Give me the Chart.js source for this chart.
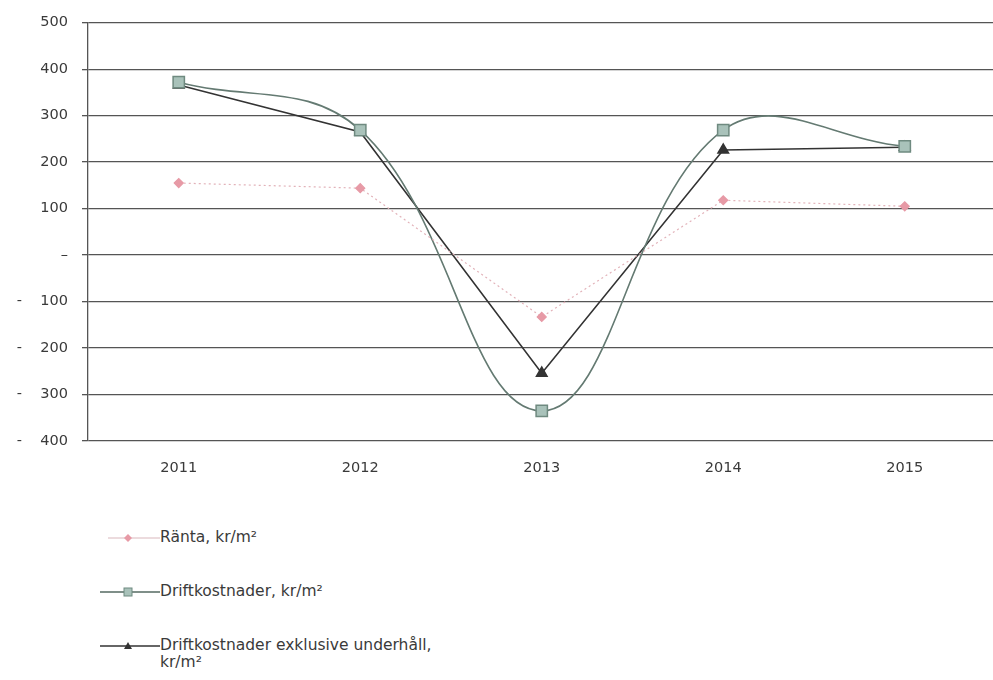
<!DOCTYPE html>
<html>
<head>
<meta charset="utf-8">
<script src="https://cdn.jsdelivr.net/npm/chart.js@4/dist/chart.umd.min.js"></script>
<style>
  html, body { margin: 0; padding: 0; background: #fff; overflow: hidden; }
  #wrap { position: relative; width: 993px; height: 680px; overflow: hidden; }
  #chartBox { position: absolute; left: 0; top: 0; width: 1005px; height: 480px; }
  .legend { position: absolute; left: 100px; font: 15.5px "DejaVu Sans", sans-serif; color: #3a3a3a; }
  .legend .item { position: absolute; left: 0; white-space: nowrap; }
  .legend svg { position: absolute; left: 0; top: 0; }
  .legend span { position: absolute; left: 60px; top: 0; line-height: 17px; }
</style>
</head>
<body>
<div id="wrap">
  <div id="chartBox"><canvas id="c"></canvas></div>
  <div class="legend">
    <div class="item" style="top:529px">
      <svg width="60" height="17"><line x1="8" y1="9" x2="60" y2="9" stroke="#d9b7bc" stroke-width="1"/><path d="M28 5 L32 9 L28 13 L24 9 Z" fill="#e79aa6"/></svg>
      <span>Ränta, kr/m²</span>
    </div>
    <div class="item" style="top:583px">
      <svg width="60" height="17"><line x1="0" y1="9" x2="60" y2="9" stroke="#556a62" stroke-width="1.6"/><rect x="24" y="5" width="8" height="8" fill="#a9c2ba" stroke="#6f8a80"/></svg>
      <span>Driftkostnader, kr/m²</span>
    </div>
    <div class="item" style="top:637px">
      <svg width="60" height="17"><line x1="0" y1="9" x2="60" y2="9" stroke="#333" stroke-width="1.6"/><path d="M28 5 L32 12 L24 12 Z" fill="#333"/></svg>
      <span>Driftkostnader exklusive underhåll,<br>kr/m²</span>
    </div>
  </div>
</div>
<script>
  // categories and series
  const years = ['2011', '2012', '2013', '2014', '2015'];
  const ranta = [155, 144, -133, 118, 105];
  const drift = [372, 269, -335, 269, 234];
  const driftExkl = [366, 265, -254, 226, 232];
  const yTicks = [500, 400, 300, 200, 100, 0, -100, -200, -300, -400];

  const font = { family: '"DejaVu Sans", sans-serif', size: 14.5 };

  new Chart(document.getElementById('c'), {
    type: 'line',
    data: {
      labels: years,
      datasets: [
        {
          label: 'Ränta, kr/m²',
          data: ranta,
          borderColor: '#e2b2b9',
          borderWidth: 1.2,
          borderDash: [2, 3],
          pointStyle: 'rectRot',
          pointRadius: 4.5,
          pointBackgroundColor: '#e79aa6',
          pointBorderColor: '#e79aa6',
          tension: 0
        },
        {
          label: 'Driftkostnader, kr/m²',
          data: drift,
          borderColor: '#647a72',
          borderWidth: 1.6,
          pointStyle: 'rect',
          pointRadius: 8,
          pointBackgroundColor: '#a9c2ba',
          pointBorderColor: '#6f8a80',
          pointBorderWidth: 1.5,
          tension: 0.4
        },
        {
          label: 'Driftkostnader exklusive underhåll, kr/m²',
          data: driftExkl,
          borderColor: '#333',
          borderWidth: 1.6,
          pointStyle: 'triangle',
          pointRadius: 6,
          pointBackgroundColor: '#333',
          pointBorderColor: '#333',
          tension: 0
        }
      ]
    },
    options: {
      responsive: true,
      maintainAspectRatio: false,
      animation: false,
      layout: { padding: { top: 22, right: 2, left: 0, bottom: 0 } },
      plugins: { legend: { display: false }, tooltip: { enabled: false } },
      scales: {
        x: {
          offset: true,
          grid: { display: false },
          border: { display: false },
          ticks: { color: '#3a3a3a', font: font, padding: 11 },
          afterFit: s => { s.height = 39; }
        },
        y: {
          min: -400,
          max: 500,
          afterBuildTicks: s => { s.ticks = yTicks.map(v => ({ value: v })); },
          grid: { color: '#555', lineWidth: 1.3, tickLength: 6 },
          border: { display: true, color: '#555', width: 1.3 },
          ticks: {
            color: '#3a3a3a',
            font: font,
            padding: 14,
            callback: v => v === 0 ? '–' : (v < 0 ? '-    ' + Math.abs(v) : String(v))
          },
          afterFit: s => { s.width = 88; }
        }
      }
    }
  });
</script>
</body>
</html>
